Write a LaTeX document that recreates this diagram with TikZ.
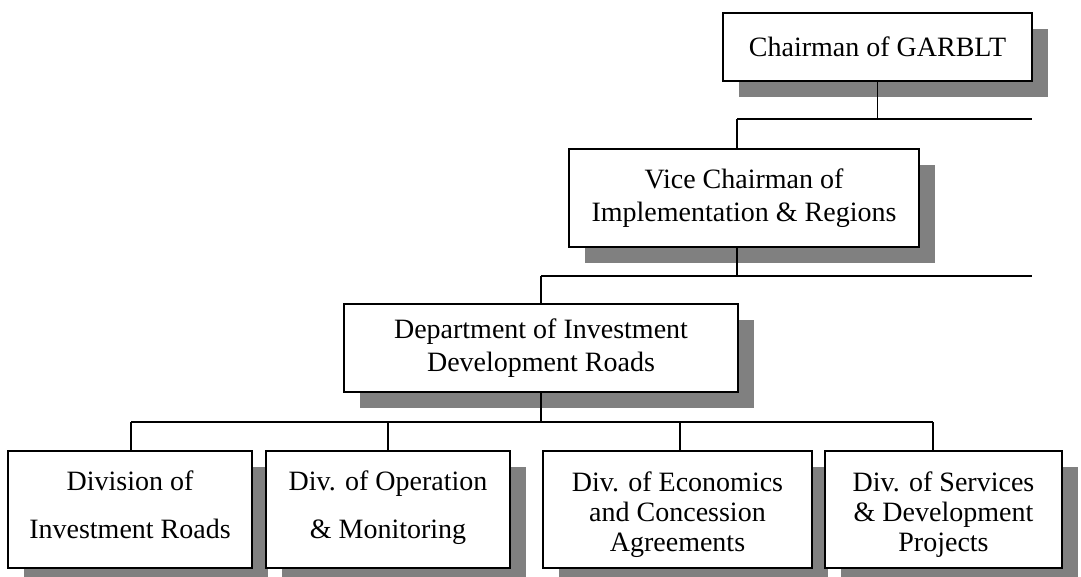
\documentclass[tikz,border=0pt]{standalone}
\usepackage{fontspec}
\setmainfont{Liberation Serif}
\usetikzlibrary{shadows}
\begin{document}
\begin{tikzpicture}[x=0.75pt,y=-0.75pt,
  unit/.style={draw=black, line width=1.3pt, fill=white, align=center, inner sep=0pt,
    font=\fontsize{21}{25}\selectfont,
    drop shadow={shadow xshift=12pt, shadow yshift=-12pt, fill=black!50, opacity=1}},
  division/.style={unit, minimum height=87.75pt},
  link/.style={draw=black, line width=1.3pt}]
\useasboundingbox (0,0) rectangle (1081,576);

% management boxes
\node[unit, minimum width=231.75pt, minimum height=51pt] (chair) at (877.5,47) {Chairman of GARBLT};
\node[unit, minimum width=262.5pt, minimum height=73.5pt] (vc) at (744,198) {Vice Chairman of\\Implementation \& Regions};
\node[unit, minimum width=295.5pt, minimum height=66pt] (dept) at (541,348) {Department of Investment\\Development Roads};

% divisions
\node[division, minimum width=183pt] (d1) at (130,509.5) {Division of\\[11pt]Investment Roads\rule[-8pt]{0pt}{8pt}};
\node[division, minimum width=183pt] (d2) at (388,509.5) {Div. of Operation\\[11pt]\& Monitoring\rule[-8pt]{0pt}{8pt}};
\node[division, minimum width=201.75pt, font=\fontsize{21}{22.5}\selectfont] (d3) at (677.5,509.5) {\rule{0pt}{22pt}Div. of Economics\\and Concession\\Agreements};
\node[division, minimum width=177.75pt, font=\fontsize{21}{22.5}\selectfont] (d4) at (943.5,509.5) {\rule{0pt}{22pt}Div. of Services\\\& Development\\Projects};

% bus lines
\coordinate (aL) at (737,119);
\coordinate (aR) at (1032,119);
\coordinate (bL) at (541,276);
\coordinate (bR) at (1032,276);
\coordinate (cL) at (131,422);
\coordinate (cR) at (933,422);
\coordinate (c3) at (680,422);

\draw[link] (chair.south) -- (chair.south |- aL);
\draw[link] (aL) -- (aR);
\draw[link] (aL) -- (aL |- vc.north);
\draw[link] (aL |- vc.south) -- (aL |- bL);
\draw[link] (bL) -- (bR);
\draw[link] (bL) -- (dept.north);
\draw[link] (dept.south) -- (dept.south |- cL);
\draw[link] (cL) -- (cR);
\draw[link] (cL) -- (cL |- d1.north);
\draw[link] (d2.north |- cL) -- (d2.north);
\draw[link] (c3) -- (c3 |- d3.north);
\draw[link] (cR) -- (cR |- d4.north);
\end{tikzpicture}
\end{document}
